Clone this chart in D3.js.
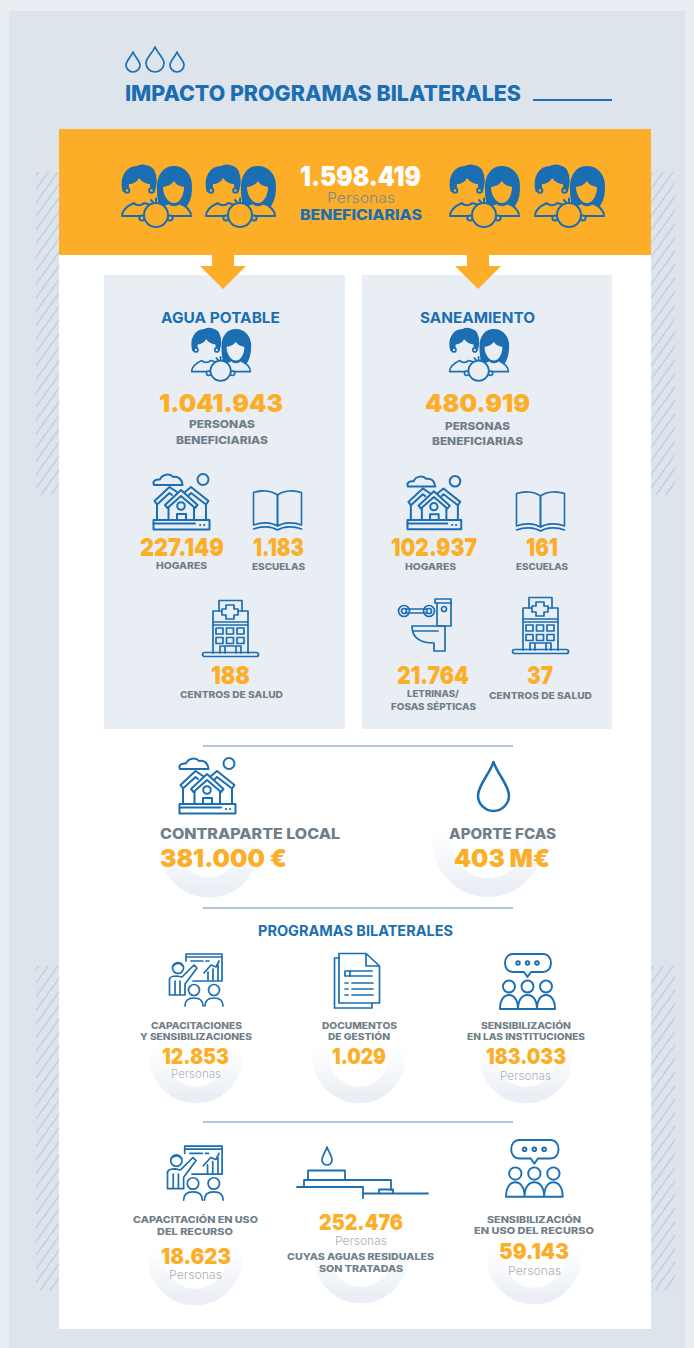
<!DOCTYPE html>
<html lang="es"><head><meta charset="utf-8">
<script src="https://cdn.jsdelivr.net/npm/d3@7/dist/d3.min.js"></script>
<style>html,body{margin:0;padding:0;background:#e9eef2}svg{display:block}text{font-family:Inter,"Open Sans",sans-serif}</style>
</head><body><svg id="c" width="694" height="1348"></svg>
<script>
// ---- data ----
const totalValue = 1598419;
const totalLabels = ["Personas", "BENEFICIARIAS"];
const sectionNames = ["AGUA POTABLE", "SANEAMIENTO"];
const aguaValues = [1041943, 227149, 1183, 188];
const aguaLabels = [["PERSONAS", "BENEFICIARIAS"], ["HOGARES"], ["ESCUELAS"], ["CENTROS DE SALUD"]];
const saneaValues = [480919, 102937, 161, 21764, 37];
const saneaLabels = [["PERSONAS", "BENEFICIARIAS"], ["HOGARES"], ["ESCUELAS"], ["LETRINAS/", "FOSAS SÉPTICAS"], ["CENTROS DE SALUD"]];
const fundLabels = ["CONTRAPARTE LOCAL", "APORTE FCAS"];
const fundValues = ["381.000 €", "403 M€"];
const progTitle = "PROGRAMAS BILATERALES";
const progValues = [12853, 1029, 183033, 18623, 252476, 59143];
const progLabels = [["CAPACITACIONES", "Y SENSIBILIZACIONES"], ["DOCUMENTOS", "DE GESTIÓN"], ["SENSIBILIZACIÓN", "EN LAS INSTITUCIONES"],
  ["CAPACITACIÓN EN USO", "DEL RECURSO"], ["CUYAS AGUAS RESIDUALES", "SON TRATADAS"], ["SENSIBILIZACIÓN", "EN USO DEL RECURSO"]];

const fmt = d3.formatLocale({decimal: ",", thousands: ".", grouping: [3], currency: ["", " €"]}).format(",d");
const ORANGE = "#fdae28", BLUE = "#1b6eb1", GRAY = "#6f7e89", PALE = "#a8b1b8", BLOCK = "#e9eef5";
const svg = d3.select("#c");
const defs = svg.append("defs");
const grad = defs.append("linearGradient").attr("id", "ring").attr("x1", 0).attr("x2", 0).attr("y1", 0).attr("y2", 1);
grad.append("stop").attr("offset", 0.4).attr("stop-color", "#ebeff5").attr("stop-opacity", 0);
grad.append("stop").attr("offset", 1).attr("stop-color", "#ebeff5").attr("stop-opacity", 1);

function rect(x, y, w, h, f) { return svg.append("rect").attr("x", x).attr("y", y).attr("width", w).attr("height", h).attr("fill", f); }
function T(s, x0, x1, base, size, weight, color) {
  return svg.append("text").text(s).attr("x", x0).attr("y", base).attr("font-size", size).attr("font-weight", weight)
    .attr("fill", color).attr("textLength", x1 - x0).attr("lengthAdjust", "spacingAndGlyphs");
}
function ring(cx, cy, r, w) { svg.append("circle").attr("cx", cx).attr("cy", cy).attr("r", r).attr("fill", "none").attr("stroke", "url(#ring)").attr("stroke-width", w); }
function icon(x, y, k, sw) {
  const g = svg.append("g").attr("transform", `translate(${x},${y}) scale(${k})`).attr("fill", "none").attr("stroke", BLUE)
    .attr("stroke-width", (sw || 1.7) / k).attr("stroke-linejoin", "round").attr("stroke-linecap", "round");
  g.p = (d, f) => { const e = g.append("path").attr("d", d); if (f) e.attr("fill", f); return e; };
  g.c = (cx, cy, r, f) => { const e = g.append("circle").attr("cx", cx).attr("cy", cy).attr("r", r); if (f) e.attr("fill", f); return e; };
  g.r = (rx, ry, w, h, f, rr) => { const e = g.append("rect").attr("x", rx).attr("y", ry).attr("width", w).attr("height", h); if (f) e.attr("fill", f); if (rr) e.attr("rx", rr); return e; };
  return g;
}

// ---- background ----
rect(9, 11, 676, 1337, "#dde4eb");
function hatch(id, x, y, w, h) {
  defs.append("clipPath").attr("id", id).append("rect").attr("x", x).attr("y", y).attr("width", w).attr("height", h);
  const g = svg.append("g").attr("clip-path", `url(#${id})`).attr("stroke", "#c1cfe0").attr("stroke-width", 1.5);
  d3.range(y - 10, y + h + 60, 13.6).forEach(v => g.append("line").attr("x1", x).attr("y1", v).attr("x2", x + 50).attr("y2", v - 70));
}
hatch("h1", 36, 172, 24, 323); hatch("h2", 651, 172, 24, 323);
hatch("h3", 36, 966, 24, 324); hatch("h4", 651, 966, 24, 324);
rect(59, 129, 592, 1200, "#fff");
rect(59, 129, 592, 126, ORANGE);

// ---- icons ----
function drop(x, y, w, h, sw) {
  const g = icon(x, y, 1, sw || 1.7), r = w / 2, b = h - r;
  g.p(`M${r},0 C${r*0.75},${b*0.35} 0,${b*0.7} 0,${b} A${r},${r} 0 0 0 ${w},${b} C${w},${b*0.7} ${r*1.25},${b*0.35} ${r},0 Z`);
}
function family(x, y, k, bg) {
  const g = icon(x, y, k, 2 * Math.max(k, 0.85));
  g.p("M3.5,31 C0,17 7,7 17,7 C22,4 32,6 34,12 C36,17 36,25 34,31 Z", BLUE);
  g.p("M9,24 C13,24 17,22 19,18 C22,22 26,24 30,24 C31,33 27,42 19,42 C12,42 8,33 9,24 Z", bg).attr("stroke", "none");
  g.c(7, 30.5, 2.3, bg); g.c(31.5, 30.5, 2.3, bg);
  g.p("M54,7 C44,7 38,15 38,27 C38,35 38,40 41,46 L66,46 C71,38 71,32 71,26 C71,15 64,7 54,7 Z", BLUE);
  g.p("M43,27 C48,26 51,25 54,21 C56,25 60,26 64,27 C64,35 60,43 54,43 C48,43 43,35 43,27 Z", bg).attr("stroke", "none");
  g.p("M2,56 C2,50 7,46 14,43 C16,46 22,46 24,43 C28,44 32,45 35,47 L35,56 Z", bg).attr("stroke", "none");
  g.p("M2,56 C2,50 7,46 14,43 C16,46 22,46 24,43 C28,44 32,45 35,47 M2,56 H23");
  g.p("M71,56 C71,50 66,46 59,43 C57,46 51,46 49,43 C46,44 43,45 39,47 L39,56 Z", bg).attr("stroke", "none");
  g.p("M71,56 C71,50 66,46 59,43 C57,46 51,46 49,43 C46,44 43,45 39,47 M71,56 H50");
  g.p("M31,40 L33.5,43 M36,38.5 L36,42.5 M41,40 L38.5,43");
  g.c(22, 58, 2.6, bg); g.c(50, 58, 2.6, bg);
  g.c(36, 55, 12, bg);
}
function houses(x, y, k) {
  const g = icon(x, y, k, 2);
  g.p("M1,12 C-1,8 3,6 7,6.5 C9,1 17,0 20,4 C25,3 29,6 29.5,12 Z");
  g.c(50, 6.5, 5.5);
  g.p("M4,31.5 V46 M53,31.5 V46 M15.5,35 V46 M41,35 V46");
  g.p("M1.5,28 L16.5,14 L24,19 M1.5,28 L4,31.5 L16.5,20 L19,22");
  g.p("M55.5,28 L38,14 L32,19 M55.5,28 L53,31.5 L38,20 L36,22");
  g.p("M12,32 L28,17 L44.5,32 L42,35 L28,23 L14.5,35 Z");
  g.c(28, 33, 3.8);
  g.r(24, 41, 9, 6);
  g.r(0.5, 47, 56, 9.5);
  g.p("M0.5,50.5 H42 M47,52 h0.2 M51,52 h0.2");
}
function book(x, y, k) {
  const g = icon(x, y, k, 1.6);
  g.p("M24.5,6 C18,1 8,1 0.5,3.5 V36 C8,33 18,33 24.5,37 Z");
  g.p("M24.5,6 C31,1 41,1 48.5,3.5 V36 C41,33 31,33 24.5,37 Z");
  g.p("M0.5,40 C8,37 18,37 24.5,41 C31,37 41,37 48.5,40");
}
function hospital(x, y, k) {
  const g = icon(x, y, k, 1.7);
  g.p("M17,11 V0.5 H40 V11");
  g.p("M11,53 V11 H46 V53 M11,22 H46 M11,25 H46");
  g.p("M24,5 h8 v4 h4 v6 h-4 v4 h-8 v-4 h-4 v-6 h4 Z", BLOCK);
  [14, 24.5, 35].forEach(a => [28, 37.5].forEach(b => g.r(a, b, 7, 6)));
  g.p("M18,53 V46 H39 V53 M23,46 V53 M34,46 V53");
  g.r(0.5, 52.5, 56, 4, null, 2);
}
function toilet(x, y, k) {
  const g = icon(x, y, k, 1.7);
  g.c(6, 13, 5.5); g.c(31, 13, 5.5); g.c(6, 13, 2.5); g.c(31, 13, 2.5);
  g.p("M8,11 H29 M8,15 H29");
  g.r(37, 1, 16, 4); g.p("M39,5 V28 H53 V5"); g.c(46, 11, 2.5);
  g.p("M14,28 H46 M14,28 C14,40 22,45 36,45 M36,45 V53 H47 V28");
  g.p("M15,33 H40");
}
function presenter(x, y, k) {
  const g = icon(x, y, k, 1.7);
  g.p("M17,8 V1 H53 V28 H24 M17,4 H53");
  g.p("M22,8 H34 M37,8 H40");
  g.p("M35,20 L42,12 L47,14 L50,8 M39,27 V19 M44,27 V16 M49,27 V12");
  g.c(9, 15, 5.5); g.p("M4,13 C8,9 12,10 14,13");
  g.p("M0.5,42 V26 C1,24 4,23 8,23 L13,24 L25,12 L28,15 L16,31 V42 Z M6,28 V42 M11,28 V42");
  g.c(25, 37, 5.5); g.c(45, 37, 5.5);
  g.p("M16,53 C16,47 20,45 25,45 C30,45 34,47 34,53 M36,53 C36,47 40,45 45,45 C50,45 54,47 54,53");
}
function documentIcon(x, y, k) {
  const g = icon(x, y, k, 1.7);
  g.p("M5,5 H0.5 V55 H38 V50");
  g.p("M5,50 V0.5 H32 L45.5,13 V50 Z M32,0.5 V13 H45.5");
  g.r(11, 18, 5, 5); g.p("M16,18 H38 M16,23 H38");
  g.p("M11,30 H14 M18,30 H39 M11,36 H14 M18,36 H39 M11,42 H14 M18,42 H39");
}
function chat(x, y, k) {
  const g = icon(x, y, k, 1.9);
  g.p("M14,1 H44 C49,1 52,5 52,10 C52,15 49,19 44,19 H32 L28.5,24 L25,19 H14 C9,19 6,15 6,10 C6,5 9,1 14,1 Z");
  [19, 28.5, 38].forEach(a => g.c(a, 10, 1.8));
  [10, 28.5, 47].forEach(a => g.c(a, 33.5, 6));
  g.p("M1,56 C1,47 5,42 10,42 C15,42 19,47 19,56 M19,56 C19,47 23,42 28.5,42 C34,42 38,47 38,56 M38,56 C38,47 42,42 47,42 C52,42 56,47 56,56 M1,56 H56");
}
function treatment() {
  const h = icon(0, 0, 1, 1.8);
  h.p("M308,1179 V1170.5 H345 V1179");
  h.p("M304,1187 V1180 H391 V1190");
  h.p("M297,1187 H363 M363,1187 V1198 M363,1193.5 H428");
  h.p("M379,1193 V1189.5 H393 V1193");
  drop(322, 1147, 10, 18, 1.7);
}

// ---- title ----
drop(126, 52, 14, 20); drop(146, 47, 18, 25); drop(170, 52, 14, 20);
T("IMPACTO PROGRAMAS BILATERALES", 125, 521, 101, 21.5, 800, BLUE);
rect(533, 99, 79, 2, BLUE);

// ---- top band ----
[120, 204, 448, 533].forEach(x => family(x, 160, 1, ORANGE));
T(fmt(totalValue), 300, 421, 186, 27, 900, "#fff");
T(totalLabels[0], 327, 395, 203, 14.5, 300, "#7c8a8e");
T(totalLabels[1], 300, 422, 220, 14.5, 800, BLUE);

// ---- blocks ----
rect(104, 275, 241, 454, BLOCK);
rect(362, 275, 250, 454, BLOCK);

// ---- arrows, on top of the blocks ----
[223, 478].forEach(cx => {
  svg.append("path").attr("fill", ORANGE).attr("d", d3.line()([[cx-11,255],[cx+11,255],[cx+11,266],[cx+23,266],[cx,289],[cx-23,266],[cx-11,266]]) + "Z");
});

T(sectionNames[0], 161, 280, 323, 15, 700, BLUE);
T(sectionNames[1], 420, 535, 323, 15, 700, BLUE);
family(190, 324, 0.85, BLOCK);
family(448, 324, 0.85, BLOCK);

const big = (v, x0, x1, b) => T(fmt(v), x0, x1, b, 25, 900, ORANGE);
const lab = (s, x0, x1, b) => T(s, x0, x1, b, 9.5, 800, GRAY);
big(aguaValues[0], 159, 283, 412);
T(aguaLabels[0][0], 189, 255, 428, 11, 800, GRAY);
T(aguaLabels[0][1], 176, 268, 444, 11, 800, GRAY);
houses(153, 473, 1);
book(253, 489, 1);
big(aguaValues[1], 140, 224, 556);
big(aguaValues[2], 253, 304, 556);
lab(aguaLabels[1][0], 156, 207, 569);
lab(aguaLabels[2][0], 252, 305, 570);
hospital(202, 600, 1);
big(aguaValues[3], 211, 250, 684);
lab(aguaLabels[3][0], 180, 283, 698);

big(saneaValues[0], 425, 530, 412);
T(saneaLabels[0][0], 445, 510, 430, 11, 800, GRAY);
T(saneaLabels[0][1], 432, 523, 445, 11, 800, GRAY);
houses(407, 475, 0.96);
book(516, 490, 1);
big(saneaValues[1], 391, 477, 556);
big(saneaValues[2], 526, 558, 556);
lab(saneaLabels[1][0], 405, 456, 570);
lab(saneaLabels[2][0], 516, 568, 570);
toilet(398, 598, 1);
hospital(512, 597, 1);
big(saneaValues[3], 397, 469, 684);
big(saneaValues[4], 527, 553, 684);
lab(saneaLabels[3][0], 407, 459, 697);
lab(saneaLabels[3][1], 391, 476, 710);
lab(saneaLabels[4][0], 489, 592, 699);

// ---- funding ----
[746, 908, 1122].forEach(y => rect(203, y - 1, 310, 2, "#b3c4db"));
ring(209, 848, 39.5, 20); ring(488, 842, 45.5, 19);
houses(179, 757, 1);
drop(478, 762, 31, 49, 2.5);
T(fundLabels[0], 160, 340, 839, 14.5, 800, GRAY);
T(fundLabels[1], 449, 556, 839, 14.5, 800, GRAY);
T(fundValues[0], 160, 287, 867, 25, 900, ORANGE);
T(fundValues[1], 454, 550, 867, 25, 900, ORANGE);

// ---- programmes ----
T(progTitle, 258, 453, 936, 14, 700, BLUE);
[[196, 1057, 46], [359, 1057, 46], [526, 1057, 46], [195, 1258, 47], [361, 1256, 47], [534, 1257, 47]]
  .forEach(d => ring(d[0], d[1], d[2] - 8, 16.5));

presenter(169, 953, 1); documentIcon(334, 953, 1); chat(499, 953, 1);
presenter(167, 1145, 1.04); treatment(); chat(505, 1139, 1.03);

const plab = (s, x0, x1, b) => T(s, x0, x1, b, 9.5, 800, GRAY);
const pers = (x0, x1, b) => T("Personas", x0, x1, b, 12, 300, PALE);
const pnum = (v, x0, x1, b) => T(fmt(v), x0, x1, b, 21.5, 900, ORANGE);
plab(progLabels[0][0], 151, 242, 1029); plab(progLabels[0][1], 140, 252, 1040);
pnum(progValues[0], 162, 229, 1064); pers(171, 221, 1078);
plab(progLabels[1][0], 322, 397, 1029); plab(progLabels[1][1], 328, 390, 1040);
pnum(progValues[1], 332, 386, 1064);
plab(progLabels[2][0], 481, 571, 1029); plab(progLabels[2][1], 467, 585, 1040);
pnum(progValues[2], 486, 566, 1064); pers(500, 551, 1080);

plab(progLabels[3][0], 133, 258, 1223); plab(progLabels[3][1], 157, 233, 1235);
pnum(progValues[3], 161, 231, 1264); pers(169, 222, 1279);
pnum(progValues[4], 319, 403, 1230); pers(335, 387, 1245);
plab(progLabels[4][0], 287, 434, 1260); plab(progLabels[4][1], 319, 403, 1272);
plab(progLabels[5][0], 487, 581, 1223); plab(progLabels[5][1], 474, 594, 1234);
pnum(progValues[5], 499, 569, 1259); pers(508, 561, 1275);
</script></body></html>
